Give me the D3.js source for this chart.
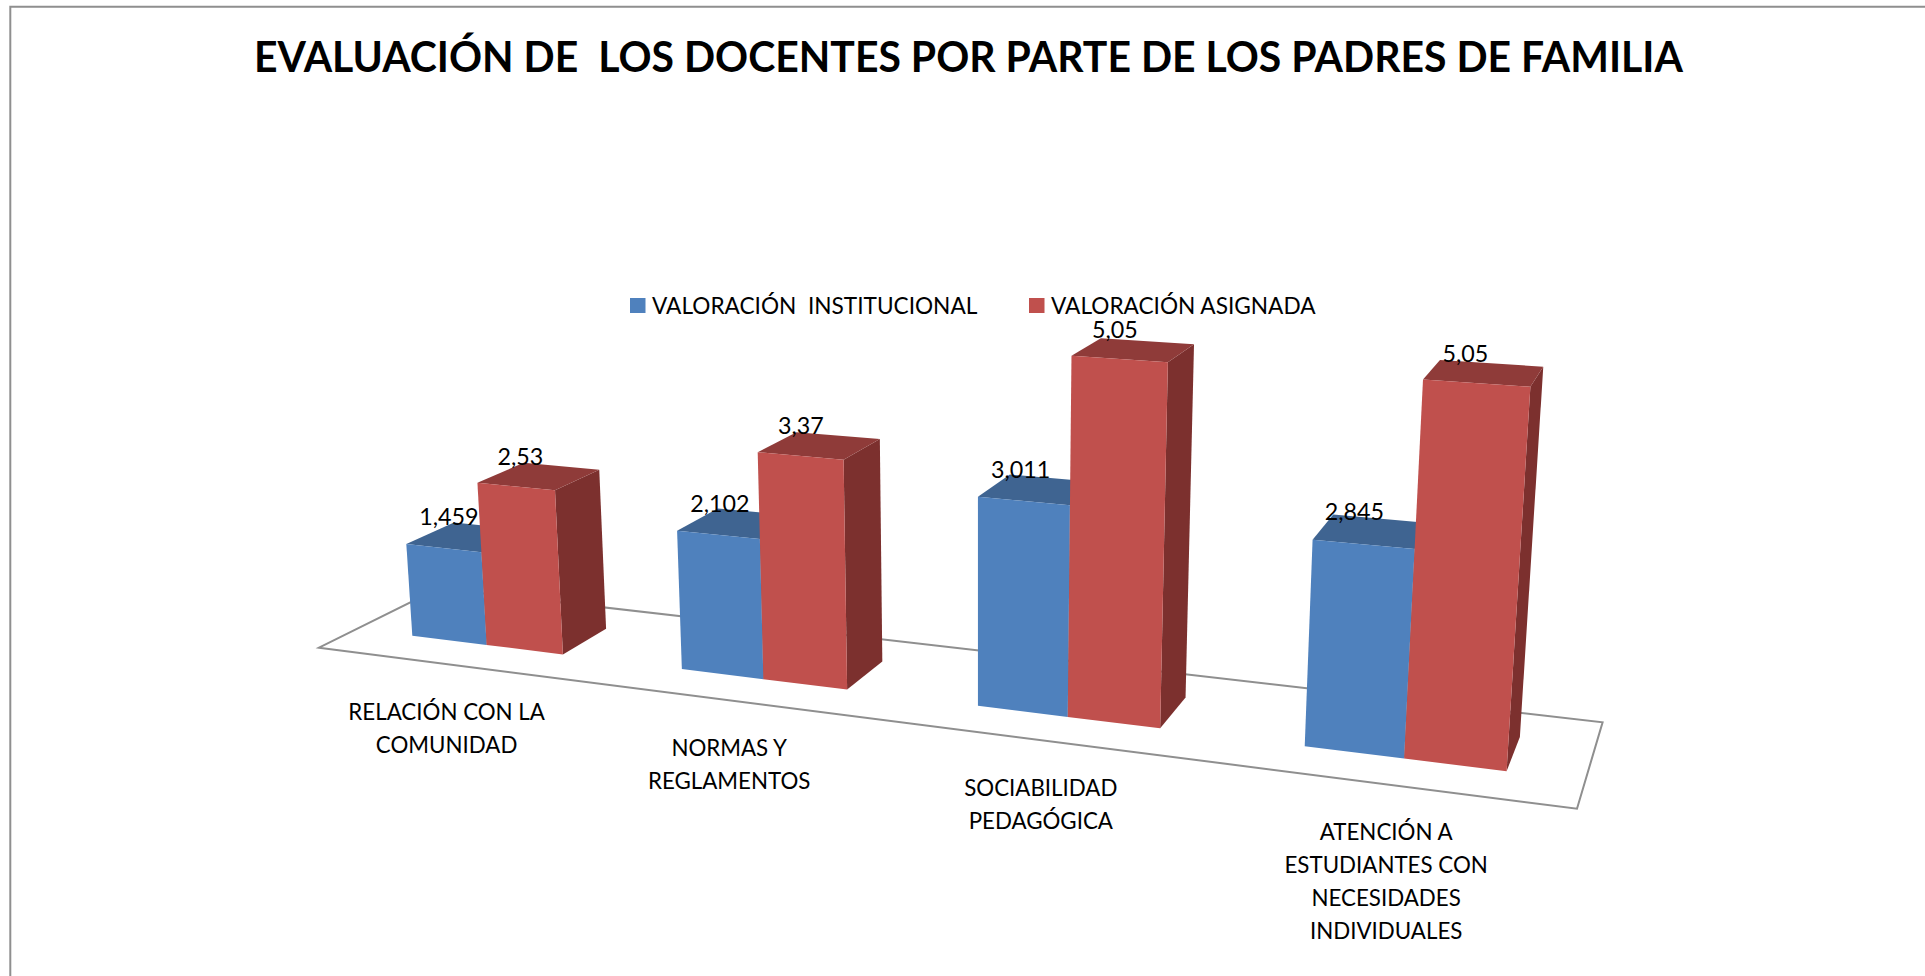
<!DOCTYPE html>
<html lang="es">
<head>
<meta charset="utf-8">
<title>Evaluación de los docentes</title>
<script src="https://cdn.jsdelivr.net/npm/d3@7"></script>
<style>
  html, body { margin: 0; padding: 0; background: #fff; }
  svg { display: block; }
  text { font-family: Lato, "Open Sans", sans-serif; fill: #000; }
</style>
</head>
<body>
<svg id="chart" width="1925" height="976"></svg>
<script>
// ---------- data ----------
const chartTitle = "EVALUACIÓN DE  LOS DOCENTES POR PARTE DE LOS PADRES DE FAMILIA";
const categories = ["RELACIÓN CON LA COMUNIDAD", "NORMAS Y REGLAMENTOS", "SOCIABILIDAD PEDAGÓGICA", "ATENCIÓN A ESTUDIANTES CON NECESIDADES INDIVIDUALES"];
const categoryLines = [
  ["RELACIÓN CON LA", "COMUNIDAD"],
  ["NORMAS Y", "REGLAMENTOS"],
  ["SOCIABILIDAD", "PEDAGÓGICA"],
  ["ATENCIÓN A", "ESTUDIANTES CON", "NECESIDADES", "INDIVIDUALES"]
];
const seriesNames = ["VALORACIÓN  INSTITUCIONAL", "VALORACIÓN ASIGNADA"];
const institucional = [1.459, 2.102, 3.011, 2.845];
const asignada = [2.53, 3.37, 5.05, 5.05];
const institucionalLabels = ["1,459", "2,102", "3,011", "2,845"];
const asignadaLabels = ["2,53", "3,37", "5,05", "5,05"];

// ---------- styles ----------
const seriesColors = [
  { front: "#4f81bd", top: "#3f6491", side: "#3a5d87" },
  { front: "#c0504d", top: "#8f3b39", side: "#7c302e" }
];
const greyLine = "#8f8f8f";

// ---------- perspective camera (floor plane corners + vertical vanishing point) ----------
const floorCorners = { fl: [319, 647.7], fr: [1577, 808.7], br: [1602.6, 722.3], bl: [438.7, 588.4] };
const verticalVanish = [979, 9300];
const heightPerUnit = -0.007286;

function makeCamera(c, vp, k) {
  const [A, B, C, D] = [c.fl, c.fr, c.br, c.bl];
  const dx1 = B[0] - C[0], dx2 = D[0] - C[0], sx = A[0] - B[0] + C[0] - D[0];
  const dy1 = B[1] - C[1], dy2 = D[1] - C[1], sy = A[1] - B[1] + C[1] - D[1];
  const det = dx1 * dy2 - dx2 * dy1;
  const g = (sx * dy2 - dx2 * sy) / det;
  const h = (dx1 * sy - sx * dy1) / det;
  const a = B[0] - A[0] + g * B[0], b = D[0] - A[0] + h * D[0];
  const d = B[1] - A[1] + g * B[1], e = D[1] - A[1] + h * D[1];
  return (u, v, z) => {
    const q = z * k;
    const w = 1 + g * u + h * v + q;
    return [(a * u + b * v + A[0] + q * vp[0]) / w, (d * u + e * v + A[1] + q * vp[1]) / w];
  };
}
const project = makeCamera(floorCorners, verticalVanish, heightPerUnit);

// ---------- scales ----------
const xCat = d3.scaleBand().domain(d3.range(categories.length)).range([0.0005, 1.0005]).paddingInner(0.43).paddingOuter(0.215);
const xSeries = d3.scaleBand().domain(d3.range(seriesNames.length)).range([0, xCat.bandwidth()]);
const yDepth = d3.scaleLinear().domain([0, 1]).range([0.3, 0.705]);
const zValue = d3.scaleLinear().domain([0, 1]).range([0, 1]);

const svg = d3.select("#chart");
const line = d3.line();
const poly = pts => line(pts) + "Z";

// text squeezed horizontally to the reference's narrow letterforms
function fit(sel, factor) {
  sel.each(function () {
    const len = this.getComputedTextLength();
    d3.select(this).attr("textLength", len * factor).attr("lengthAdjust", "spacingAndGlyphs");
  });
  return sel;
}

// ---------- frame ----------
svg.append("path").attr("d", line([[10.3, 976], [10.3, 6.7], [1925, 6.7]]))
  .attr("fill", "none").attr("stroke", greyLine).attr("stroke-width", 2);

// ---------- title ----------
svg.append("text").attr("x", 968.5).attr("y", 72.3).attr("text-anchor", "middle")
  .attr("font-size", 42).attr("font-weight", 700)
  .style("white-space", "pre").text(chartTitle).call(fit, 0.975);

// ---------- legend ----------
const legendX = [630, 1029];
const legend = svg.append("g").selectAll("g").data(seriesNames).join("g")
  .attr("transform", (d, i) => `translate(${legendX[i]},298)`);
legend.append("rect").attr("width", 15.5).attr("height", 15).attr("fill", (d, i) => seriesColors[i].front);
legend.append("text").attr("x", 22).attr("y", 15.5).attr("font-size", 24)
  .style("white-space", "pre").text(d => d).call(fit, 0.943);

// ---------- floor ----------
svg.append("path")
  .attr("d", poly([project(0, 0, 0), project(1, 0, 0), project(1, 1, 0), project(0, 1, 0)]))
  .attr("fill", "#fff").attr("stroke", greyLine).attr("stroke-width", 2).attr("stroke-linejoin", "miter");

// ---------- bars ----------
const seriesValues = [institucional, asignada];
const seriesLabels = [institucionalLabels, asignadaLabels];
const barGroup = svg.append("g");
const labelGroup = svg.append("g");

categories.forEach((cat, c) => {
  seriesValues.forEach((vals, s) => {
    const u0 = xCat(c) + xSeries(s), u1 = u0 + xSeries.bandwidth();
    const v0 = yDepth(0), v1 = yDepth(1), z = zValue(vals[c]);
    const col = seriesColors[s];
    const g = barGroup.append("g");
    g.append("path").attr("fill", col.side)
      .attr("d", poly([project(u1, v0, 0), project(u1, v1, 0), project(u1, v1, z), project(u1, v0, z)]));
    g.append("path").attr("fill", col.top)
      .attr("d", poly([project(u0, v0, z), project(u1, v0, z), project(u1, v1, z), project(u0, v1, z)]));
    g.append("path").attr("fill", col.front)
      .attr("d", poly([project(u0, v0, 0), project(u1, v0, 0), project(u1, v0, z), project(u0, v0, z)]));
    const p = project((u0 + u1) / 2, (v0 + v1) / 2, z);
    labelGroup.append("text").attr("x", p[0] - 18.5).attr("y", p[1] - 11.5)
      .attr("text-anchor", "middle").attr("font-size", 24).text(seriesLabels[s][c]).call(fit, 0.97);
  });
});

// ---------- category labels ----------
const catGroup = svg.append("g");
categoryLines.forEach((lines, c) => {
  const p = project(xCat(c) + xCat.bandwidth() / 2, 0, 0);
  catGroup.selectAll(null).data(lines).join("text")
    .attr("x", p[0] - 4.5).attr("y", (d, i) => p[1] + 55.5 + i * 32.8)
    .attr("text-anchor", "middle").attr("font-size", 24).text(d => d).call(fit, 0.93);
});
</script>
</body>
</html>
